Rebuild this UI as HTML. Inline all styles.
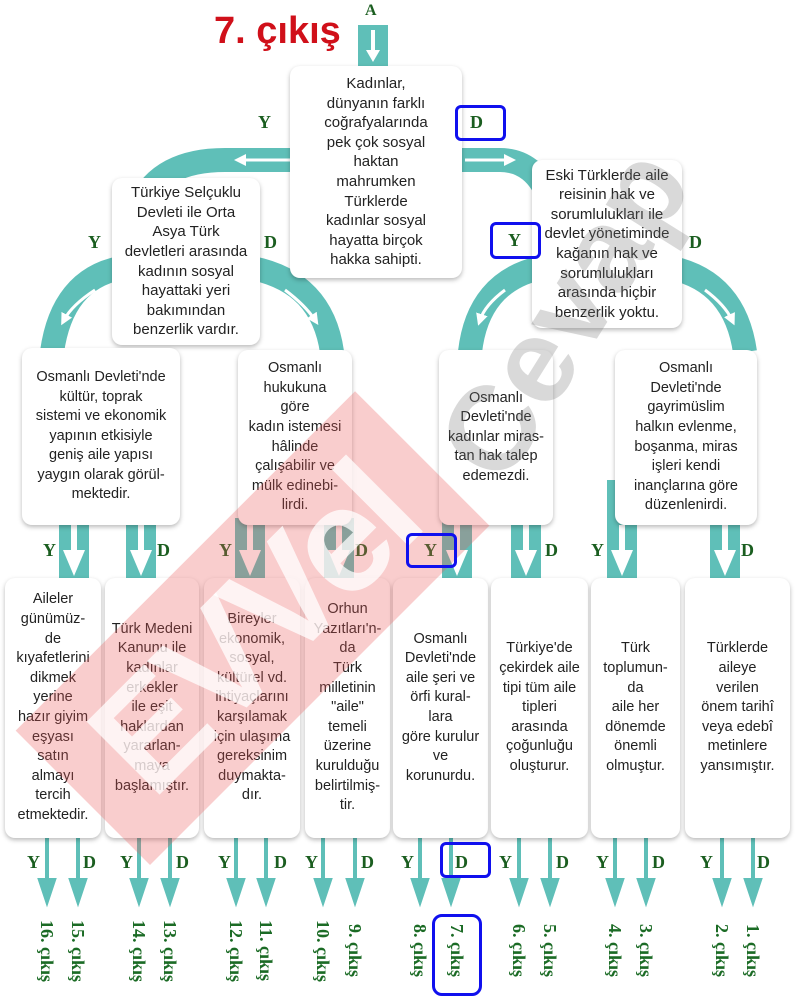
<!DOCTYPE html>
<html><head><meta charset="utf-8"><style>
body{margin:0;width:800px;height:1000px;background:#fff;position:relative;overflow:hidden;font-family:"Liberation Sans Narrow","Liberation Sans",sans-serif}
.b{position:absolute;background:#fff;border-radius:10px;box-shadow:0 2px 5px rgba(0,0,0,.28);display:flex;align-items:center;justify-content:center;text-align:center;font-size:14.5px;line-height:19.6px;color:#222;box-sizing:border-box;padding:0 3px;z-index:2}
.l{position:absolute;font-family:"Liberation Serif",serif;font-weight:bold;color:#1b5e20;font-size:18px;z-index:3}
.e{position:absolute;top:920px;writing-mode:vertical-rl;font-family:"Liberation Serif",serif;font-weight:bold;color:#1b6b25;font-size:18px;z-index:3}
.bl{position:absolute;border:3px solid #1010ee;border-radius:6px;z-index:5;box-sizing:border-box}
svg{position:absolute;left:0;top:0;z-index:1}
.wm{position:absolute;z-index:4;pointer-events:none;font-weight:bold;font-family:"Liberation Sans",sans-serif}
</style></head><body>
<svg width="800" height="1000">
<defs><marker id="ah" markerWidth="4" markerHeight="4" refX="2" refY="2" orient="auto" markerUnits="strokeWidth"><path d="M0,0 L4,2 L0,4 Z" fill="#fff"/></marker></defs>
<g fill="none" stroke="#5fbfb8" stroke-width="24">
<path d="M300 160 H225 Q160 160 140 205"/>
<path d="M455 160 H500 Q535 160 550 200"/>
<path d="M120 268 Q62 280 52 352"/>
<path d="M252 268 Q322 282 332 352"/>
<path d="M540 268 Q478 282 470 352"/>
<path d="M672 268 Q735 282 745 352"/>
</g>
<g stroke="#fff" stroke-width="3" fill="none" marker-end="url(#ah)">
<path d="M290 160 H240"/>
<path d="M465 160 H510"/>
<path d="M95 290 Q72 305 64 320"/>
<path d="M285 290 Q305 305 315 320"/>
<path d="M505 290 Q485 305 480 320"/>
<path d="M705 290 Q725 305 732 320"/>
</g>
<rect x="358" y="25" width="30" height="42" fill="#5fbfb8"/>
<path d="M373 30 V55" stroke="#fff" stroke-width="4"/><path d="M366 50 L373 62 L380 50Z" fill="#fff"/>
<g>
<g transform="translate(74,0)"><rect x="-15" y="518" width="30" height="64" fill="#5fbfb8"/><rect x="-3" y="525" width="6" height="30" fill="#fff"/><path d="M-11 550 L0 576 L11 550Z" fill="#fff"/></g>
<g transform="translate(141,0)"><rect x="-15" y="518" width="30" height="64" fill="#5fbfb8"/><rect x="-3" y="525" width="6" height="30" fill="#fff"/><path d="M-11 550 L0 576 L11 550Z" fill="#fff"/></g>
<g transform="translate(250,0)"><rect x="-15" y="518" width="30" height="64" fill="#5fbfb8"/><rect x="-3" y="525" width="6" height="30" fill="#fff"/><path d="M-11 550 L0 576 L11 550Z" fill="#fff"/></g>
<g transform="translate(339,0)"><rect x="-15" y="518" width="30" height="64" fill="#5fbfb8"/><rect x="-3" y="525" width="6" height="30" fill="#fff"/><path d="M-11 550 L0 576 L11 550Z" fill="#fff"/></g>
<g transform="translate(457,0)"><rect x="-15" y="518" width="30" height="64" fill="#5fbfb8"/><rect x="-3" y="525" width="6" height="30" fill="#fff"/><path d="M-11 550 L0 576 L11 550Z" fill="#fff"/></g>
<g transform="translate(526,0)"><rect x="-15" y="518" width="30" height="64" fill="#5fbfb8"/><rect x="-3" y="525" width="6" height="30" fill="#fff"/><path d="M-11 550 L0 576 L11 550Z" fill="#fff"/></g>
<g transform="translate(622,0)"><rect x="-15" y="480" width="30" height="102" fill="#5fbfb8"/><rect x="-3" y="525" width="6" height="30" fill="#fff"/><path d="M-11 550 L0 576 L11 550Z" fill="#fff"/></g>
<g transform="translate(725,0)"><rect x="-15" y="518" width="30" height="64" fill="#5fbfb8"/><rect x="-3" y="525" width="6" height="30" fill="#fff"/><path d="M-11 550 L0 576 L11 550Z" fill="#fff"/></g>
</g>
<g stroke="#5fbfb8" stroke-width="4" fill="#5fbfb8" stroke-linejoin="miter">
<path d="M47 838 V884"/><path d="M40 880 L47 901 L54 880Z"/>
<path d="M78 838 V884"/><path d="M71 880 L78 901 L85 880Z"/>
<path d="M139 838 V884"/><path d="M132 880 L139 901 L146 880Z"/>
<path d="M170 838 V884"/><path d="M163 880 L170 901 L177 880Z"/>
<path d="M236 838 V884"/><path d="M229 880 L236 901 L243 880Z"/>
<path d="M266 838 V884"/><path d="M259 880 L266 901 L273 880Z"/>
<path d="M323 838 V884"/><path d="M316 880 L323 901 L330 880Z"/>
<path d="M355 838 V884"/><path d="M348 880 L355 901 L362 880Z"/>
<path d="M420 838 V884"/><path d="M413 880 L420 901 L427 880Z"/>
<path d="M451 838 V884"/><path d="M444 880 L451 901 L458 880Z"/>
<path d="M519 838 V884"/><path d="M512 880 L519 901 L526 880Z"/>
<path d="M550 838 V884"/><path d="M543 880 L550 901 L557 880Z"/>
<path d="M615 838 V884"/><path d="M608 880 L615 901 L622 880Z"/>
<path d="M646 838 V884"/><path d="M639 880 L646 901 L653 880Z"/>
<path d="M722 838 V884"/><path d="M715 880 L722 901 L729 880Z"/>
<path d="M753 838 V884"/><path d="M746 880 L753 901 L760 880Z"/>
</g>
</svg>

<div style="position:absolute;left:214px;top:10px;font-family:'Liberation Sans',sans-serif;font-weight:bold;font-size:38px;color:#d0101a;z-index:3">7. çıkış</div>
<div class="l" style="left:365px;top:2px;font-size:16px">A</div>

<div class="b" style="left:290px;top:66px;width:172px;height:212px;font-size:15px">Kadınlar,<br>dünyanın farklı<br>coğrafyalarında<br>pek çok sosyal<br>haktan<br>mahrumken<br>Türklerde<br>kadınlar sosyal<br>hayatta birçok<br>hakka sahipti.</div>
<div class="b" style="left:112px;top:178px;width:148px;height:167px;font-size:15px">Türkiye Selçuklu<br>Devleti ile Orta<br>Asya Türk<br>devletleri arasında<br>kadının sosyal<br>hayattaki yeri<br>bakımından<br>benzerlik vardır.</div>
<div class="b" style="left:532px;top:160px;width:150px;height:168px;font-size:15px">Eski Türklerde aile<br>reisinin hak ve<br>sorumlulukları ile<br>devlet yönetiminde<br>kağanın hak ve<br>sorumlulukları<br>arasında hiçbir<br>benzerlik yoktu.</div>

<div class="b" style="left:22px;top:348px;width:158px;height:177px">Osmanlı Devleti'nde<br>kültür, toprak<br>sistemi ve ekonomik<br>yapının etkisiyle<br>geniş aile yapısı<br>yaygın olarak görül-<br>mektedir.</div>
<div class="b" style="left:238px;top:350px;width:114px;height:175px">Osmanlı<br>hukukuna<br>göre<br>kadın istemesi<br>hâlinde<br>çalışabilir ve<br>mülk edinebi-<br>lirdi.</div>
<div class="b" style="left:439px;top:350px;width:114px;height:175px">Osmanlı<br>Devleti'nde<br>kadınlar miras-<br>tan hak talep<br>edemezdi.</div>
<div class="b" style="left:615px;top:350px;width:142px;height:175px">Osmanlı<br>Devleti'nde<br>gayrimüslim<br>halkın evlenme,<br>boşanma, miras<br>işleri kendi<br>inançlarına göre<br>düzenlenirdi.</div>

<div class="b" style="left:5px;top:578px;width:96px;height:260px">Aileler<br>günümüz-<br>de<br>kıyafetlerini<br>dikmek<br>yerine<br>hazır giyim<br>eşyası<br>satın<br>almayı<br>tercih<br>etmektedir.</div>
<div class="b" style="left:105px;top:578px;width:94px;height:260px">Türk Medeni<br>Kanunu ile<br>kadınlar<br>erkekler<br>ile eşit<br>haklardan<br>yararlan-<br>maya<br>başlamıştır.</div>
<div class="b" style="left:204px;top:578px;width:96px;height:260px">Bireyler<br>ekonomik,<br>sosyal,<br>kültürel vd.<br>ihtiyaçlarını<br>karşılamak<br>için ulaşıma<br>gereksinim<br>duymakta-<br>dır.</div>
<div class="b" style="left:305px;top:578px;width:85px;height:260px">Orhun<br>Yazıtları'n-<br>da<br>Türk<br>milletinin<br>"aile"<br>temeli<br>üzerine<br>kurulduğu<br>belirtilmiş-<br>tir.</div>
<div class="b" style="left:393px;top:578px;width:95px;height:260px">Osmanlı<br>Devleti'nde<br>aile şeri ve<br>örfi kural-<br>lara<br>göre kurulur<br>ve<br>korunurdu.</div>
<div class="b" style="left:491px;top:578px;width:97px;height:260px">Türkiye'de<br>çekirdek aile<br>tipi tüm aile<br>tipleri<br>arasında<br>çoğunluğu<br>oluşturur.</div>
<div class="b" style="left:591px;top:578px;width:89px;height:260px">Türk<br>toplumun-<br>da<br>aile her<br>dönemde<br>önemli<br>olmuştur.</div>
<div class="b" style="left:685px;top:578px;width:105px;height:260px">Türklerde<br>aileye<br>verilen<br>önem tarihî<br>veya edebî<br>metinlere<br>yansımıştır.</div>

<div class="l" style="left:258px;top:112px">Y</div>
<div class="l" style="left:470px;top:112px">D</div>
<div class="l" style="left:88px;top:232px">Y</div>
<div class="l" style="left:264px;top:232px">D</div>
<div class="l" style="left:508px;top:230px">Y</div>
<div class="l" style="left:689px;top:232px">D</div>
<div class="l" style="left:43px;top:540px">Y</div>
<div class="l" style="left:157px;top:540px">D</div>
<div class="l" style="left:219px;top:540px">Y</div>
<div class="l" style="left:355px;top:540px">D</div>
<div class="l" style="left:424px;top:540px">Y</div>
<div class="l" style="left:545px;top:540px">D</div>
<div class="l" style="left:591px;top:540px">Y</div>
<div class="l" style="left:741px;top:540px">D</div>

<div class="l" style="left:27px;top:852px">Y</div><div class="l" style="left:83px;top:852px">D</div>
<div class="l" style="left:120px;top:852px">Y</div><div class="l" style="left:176px;top:852px">D</div>
<div class="l" style="left:218px;top:852px">Y</div><div class="l" style="left:274px;top:852px">D</div>
<div class="l" style="left:305px;top:852px">Y</div><div class="l" style="left:361px;top:852px">D</div>
<div class="l" style="left:401px;top:852px">Y</div><div class="l" style="left:455px;top:852px">D</div>
<div class="l" style="left:499px;top:852px">Y</div><div class="l" style="left:556px;top:852px">D</div>
<div class="l" style="left:596px;top:852px">Y</div><div class="l" style="left:652px;top:852px">D</div>
<div class="l" style="left:700px;top:852px">Y</div><div class="l" style="left:757px;top:852px">D</div>

<div class="e" style="left:36px">16. çıkış</div>
<div class="e" style="left:67px">15. çıkış</div>
<div class="e" style="left:128px">14. çıkış</div>
<div class="e" style="left:159px">13. çıkış</div>
<div class="e" style="left:225px">12. çıkış</div>
<div class="e" style="left:255px">11. çıkış</div>
<div class="e" style="left:312px">10. çıkış</div>
<div class="e" style="left:344px;top:924px">9. çıkış</div>
<div class="e" style="left:409px;top:924px">8. çıkış</div>
<div class="e" style="left:446px;top:924px">7. çıkış</div>
<div class="e" style="left:508px;top:924px">6. çıkış</div>
<div class="e" style="left:539px;top:924px">5. çıkış</div>
<div class="e" style="left:604px;top:924px">4. çıkış</div>
<div class="e" style="left:635px;top:924px">3. çıkış</div>
<div class="e" style="left:711px;top:924px">2. çıkış</div>
<div class="e" style="left:742px;top:924px">1. çıkış</div>

<div class="bl" style="left:455px;top:105px;width:51px;height:36px"></div>
<div class="bl" style="left:490px;top:222px;width:51px;height:37px"></div>
<div class="bl" style="left:406px;top:533px;width:51px;height:35px"></div>
<div class="bl" style="left:440px;top:842px;width:51px;height:36px"></div>
<div class="bl" style="left:432px;top:914px;width:50px;height:82px;border-radius:10px"></div>

<div class="wm" style="left:150px;top:675px;width:480px;height:190px;background:rgba(235,90,90,.3);transform:rotate(-45deg);transform-origin:0 100%;color:rgba(255,255,255,.75);font-size:150px;line-height:190px;text-align:center;letter-spacing:-6px;overflow:hidden">EVVel</div>
<div class="wm" style="left:410px;top:430px;font-size:120px;color:rgba(120,120,120,.28);transform:rotate(-58deg);transform-origin:0 0">Cevap</div>
</body></html>
